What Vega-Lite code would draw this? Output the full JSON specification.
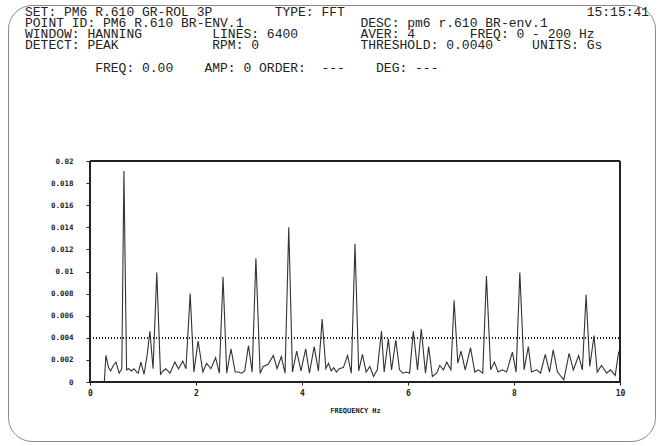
{
  "$schema": "https://vega.github.io/schema/vega-lite/v6.json",
  "autosize": "none",
  "width": 647,
  "height": 436,
  "padding": {"left": 8, "top": 5, "right": 8, "bottom": 5},
  "background": "white",
  "view": {"stroke": "#888888", "strokeWidth": 1, "cornerRadius": 24, "fill": "white"},
  "title": {
    "text": [
      "SET: PM6 R.610 GR-ROL 3P\u00a0\u00a0\u00a0\u00a0\u00a0\u00a0\u00a0\u00a0TYPE: FFT\u00a0\u00a0\u00a0\u00a0\u00a0\u00a0\u00a0\u00a0\u00a0\u00a0\u00a0\u00a0\u00a0\u00a0\u00a0\u00a0\u00a0\u00a0\u00a0\u00a0\u00a0\u00a0\u00a0\u00a0\u00a0\u00a0\u00a0\u00a0\u00a0\u00a0\u00a015:15:41",
      "POINT ID: PM6 R.610 BR-ENV.1\u00a0\u00a0\u00a0\u00a0\u00a0\u00a0\u00a0\u00a0\u00a0\u00a0\u00a0\u00a0\u00a0\u00a0\u00a0DESC: pm6 r.610 BR-env.1",
      "WINDOW: HANNING\u00a0\u00a0\u00a0\u00a0\u00a0\u00a0\u00a0\u00a0\u00a0LINES: 6400\u00a0\u00a0\u00a0\u00a0\u00a0\u00a0\u00a0\u00a0AVER: 4\u00a0\u00a0\u00a0\u00a0\u00a0\u00a0\u00a0FREQ: 0 - 200 Hz",
      "DETECT: PEAK\u00a0\u00a0\u00a0\u00a0\u00a0\u00a0\u00a0\u00a0\u00a0\u00a0\u00a0\u00a0RPM: 0\u00a0\u00a0\u00a0\u00a0\u00a0\u00a0\u00a0\u00a0\u00a0\u00a0\u00a0\u00a0\u00a0THRESHOLD: 0.0040\u00a0\u00a0\u00a0\u00a0\u00a0UNITS: Gs",
      "\u200b",
      "\u200b\u00a0\u00a0\u00a0\u00a0\u00a0\u00a0\u00a0\u00a0\u00a0FREQ: 0.00\u00a0\u00a0\u00a0\u00a0AMP: 0\u00a0ORDER:\u00a0\u00a0---\u00a0\u00a0\u00a0\u00a0DEG: ---"
    ],
    "orient": "top",
    "anchor": "start",
    "frame": "group",
    "baseline": "top",
    "offset": -70,
    "dx": 17,
    "font": "Liberation Mono",
    "fontSize": 13,
    "fontWeight": "normal",
    "color": "#222222",
    "lineHeight": 11.3
  },
  "data": {
    "values": [
      {"f": 0.27, "amp": 0}, {"f": 0.30, "amp": 0.0024}, {"f": 0.35, "amp": 0.0013}, {"f": 0.39, "amp": 0.0010},
      {"f": 0.44, "amp": 0.0015}, {"f": 0.49, "amp": 0.0018}, {"f": 0.55, "amp": 0.0008}, {"f": 0.60, "amp": 0.0012},
      {"f": 0.64, "amp": 0.0191}, {"f": 0.69, "amp": 0.0011}, {"f": 0.73, "amp": 0.0012}, {"f": 0.78, "amp": 0.0010},
      {"f": 0.83, "amp": 0.0012}, {"f": 0.88, "amp": 0.0009}, {"f": 0.91, "amp": 0.0008}, {"f": 0.96, "amp": 0.0018},
      {"f": 1.02, "amp": 0.0007}, {"f": 1.08, "amp": 0.0025}, {"f": 1.13, "amp": 0.0046}, {"f": 1.19, "amp": 0.0012},
      {"f": 1.26, "amp": 0.0099}, {"f": 1.33, "amp": 0.0007}, {"f": 1.38, "amp": 0.0010}, {"f": 1.43, "amp": 0.0012},
      {"f": 1.51, "amp": 0.0008}, {"f": 1.60, "amp": 0.0018}, {"f": 1.67, "amp": 0.0012}, {"f": 1.75, "amp": 0.0019},
      {"f": 1.81, "amp": 0.0012}, {"f": 1.89, "amp": 0.0080}, {"f": 1.96, "amp": 0.0009}, {"f": 2.04, "amp": 0.0037},
      {"f": 2.13, "amp": 0.0009}, {"f": 2.20, "amp": 0.0017}, {"f": 2.28, "amp": 0.0012}, {"f": 2.37, "amp": 0.0022},
      {"f": 2.44, "amp": 0.0008}, {"f": 2.51, "amp": 0.0095}, {"f": 2.58, "amp": 0.0008}, {"f": 2.66, "amp": 0.0030},
      {"f": 2.74, "amp": 0.0009}, {"f": 2.80, "amp": 0.0009}, {"f": 2.86, "amp": 0.0008}, {"f": 2.92, "amp": 0.0010},
      {"f": 2.99, "amp": 0.0033}, {"f": 3.06, "amp": 0.0009}, {"f": 3.13, "amp": 0.0112}, {"f": 3.21, "amp": 0.0008},
      {"f": 3.27, "amp": 0.0014}, {"f": 3.36, "amp": 0.0016}, {"f": 3.46, "amp": 0.0024}, {"f": 3.53, "amp": 0.0012},
      {"f": 3.61, "amp": 0.0023}, {"f": 3.68, "amp": 0.0008}, {"f": 3.75, "amp": 0.0140}, {"f": 3.82, "amp": 0.0009},
      {"f": 3.90, "amp": 0.0028}, {"f": 3.98, "amp": 0.0010}, {"f": 4.07, "amp": 0.0030}, {"f": 4.14, "amp": 0.0008},
      {"f": 4.23, "amp": 0.0032}, {"f": 4.31, "amp": 0.0010}, {"f": 4.38, "amp": 0.0057}, {"f": 4.45, "amp": 0.0012},
      {"f": 4.50, "amp": 0.0017}, {"f": 4.55, "amp": 0.0010}, {"f": 4.60, "amp": 0.0013}, {"f": 4.65, "amp": 0.0009},
      {"f": 4.70, "amp": 0.0012}, {"f": 4.78, "amp": 0.0013}, {"f": 4.86, "amp": 0.0024}, {"f": 4.93, "amp": 0.0008},
      {"f": 5.00, "amp": 0.0125}, {"f": 5.07, "amp": 0.0010}, {"f": 5.14, "amp": 0.0025}, {"f": 5.21, "amp": 0.0009},
      {"f": 5.28, "amp": 0.0014}, {"f": 5.35, "amp": 0.0005}, {"f": 5.42, "amp": 0.0011}, {"f": 5.50, "amp": 0.0046},
      {"f": 5.55, "amp": 0.0009}, {"f": 5.63, "amp": 0.0039}, {"f": 5.69, "amp": 0.0011}, {"f": 5.77, "amp": 0.0038},
      {"f": 5.84, "amp": 0.0011}, {"f": 5.90, "amp": 0.0008}, {"f": 5.97, "amp": 0.0009}, {"f": 6.03, "amp": 0.0008},
      {"f": 6.10, "amp": 0.0046}, {"f": 6.18, "amp": 0.0011}, {"f": 6.25, "amp": 0.0048}, {"f": 6.33, "amp": 0.0008},
      {"f": 6.39, "amp": 0.0032}, {"f": 6.46, "amp": 0.0005}, {"f": 6.54, "amp": 0.0008}, {"f": 6.60, "amp": 0.0015},
      {"f": 6.67, "amp": 0.0011}, {"f": 6.73, "amp": 0.0018}, {"f": 6.81, "amp": 0.0011}, {"f": 6.87, "amp": 0.0074},
      {"f": 6.94, "amp": 0.0017}, {"f": 7.00, "amp": 0.0028}, {"f": 7.08, "amp": 0.0011}, {"f": 7.18, "amp": 0.0031},
      {"f": 7.26, "amp": 0.0009}, {"f": 7.33, "amp": 0.0011}, {"f": 7.41, "amp": 0.0008}, {"f": 7.48, "amp": 0.0096},
      {"f": 7.56, "amp": 0.0011}, {"f": 7.63, "amp": 0.0018}, {"f": 7.70, "amp": 0.0009}, {"f": 7.78, "amp": 0.0011},
      {"f": 7.86, "amp": 0.0009}, {"f": 7.97, "amp": 0.0027}, {"f": 8.04, "amp": 0.0009}, {"f": 8.11, "amp": 0.0099},
      {"f": 8.19, "amp": 0.0011}, {"f": 8.27, "amp": 0.0032}, {"f": 8.33, "amp": 0.0009}, {"f": 8.43, "amp": 0.0011},
      {"f": 8.50, "amp": 0.0008}, {"f": 8.59, "amp": 0.0025}, {"f": 8.67, "amp": 0.0009}, {"f": 8.74, "amp": 0.0029},
      {"f": 8.82, "amp": 0.0009}, {"f": 8.94, "amp": 0.0002}, {"f": 9.04, "amp": 0.0026}, {"f": 9.12, "amp": 0.0011},
      {"f": 9.22, "amp": 0.0024}, {"f": 9.29, "amp": 0.0011}, {"f": 9.36, "amp": 0.0079}, {"f": 9.43, "amp": 0.0014},
      {"f": 9.51, "amp": 0.0042}, {"f": 9.57, "amp": 0.0009}, {"f": 9.65, "amp": 0.0015}, {"f": 9.75, "amp": 0.0008},
      {"f": 9.82, "amp": 0.0011}, {"f": 9.91, "amp": 0.0006}, {"f": 9.97, "amp": 0.0026}, {"f": 10.0, "amp": 0.0030}
    ]
  },
  "layer": [
    {
      "mark": {"type": "line", "color": "#333333", "strokeWidth": 1.1},
      "encoding": {
        "x": {
          "field": "f", "type": "quantitative",
          "scale": {"domain": [-1.5472, 10.6604], "nice": false, "zero": false},
          "axis": {
            "values": [0, 2, 4, 6, 8, 10], "offset": -60, "domain": false, "grid": false,
            "tickSize": 4, "tickColor": "#222222", "labelFlush": false,
            "labelFont": "DejaVu Sans Mono", "labelFontWeight": "bold", "labelFontSize": 8, "labelColor": "#222222", "labelPadding": 4,
            "title": "FREQUENCY Hz", "titleFont": "DejaVu Sans Mono", "titleFontWeight": "bold", "titleFontSize": 7, "titleColor": "#222222",
            "titleX": 347, "titleY": 25
          }
        },
        "y": {
          "field": "amp", "type": "quantitative",
          "scale": {"domain": [-0.005339, 0.034118], "nice": false, "zero": false},
          "axis": {
            "values": [0, 0.002, 0.004, 0.006, 0.008, 0.01, 0.012, 0.014, 0.016, 0.018, 0.02],
            "format": "~g", "offset": -82, "domain": false, "grid": false,
            "tickSize": 4, "tickColor": "#222222",
            "labelFont": "DejaVu Sans Mono", "labelFontWeight": "bold", "labelFontSize": 7.5, "labelColor": "#222222", "labelPadding": 13,
            "title": null
          }
        }
      }
    },
    {
      "mark": {"type": "rule", "color": "#222222", "strokeWidth": 1, "strokeDash": [1, 2]},
      "encoding": {"y": {"datum": 0.004}, "x": {"datum": 0}, "x2": {"datum": 10}}
    },
    {
      "mark": {"type": "rule", "color": "#222222", "strokeWidth": 1.3},
      "encoding": {"y": {"datum": 0.02}, "x": {"datum": 0}, "x2": {"datum": 10}}
    },
    {
      "mark": {"type": "rule", "color": "#222222", "strokeWidth": 1.5},
      "encoding": {"y": {"datum": 0}, "x": {"datum": 0}, "x2": {"datum": 10}}
    },
    {
      "mark": {"type": "rule", "color": "#222222", "strokeWidth": 1},
      "encoding": {"x": {"datum": 0}, "y": {"datum": 0}, "y2": {"datum": 0.02}}
    },
    {
      "mark": {"type": "rule", "color": "#222222", "strokeWidth": 1},
      "encoding": {"x": {"datum": 10}, "y": {"datum": 0}, "y2": {"datum": 0.02}}
    }
  ]
}
